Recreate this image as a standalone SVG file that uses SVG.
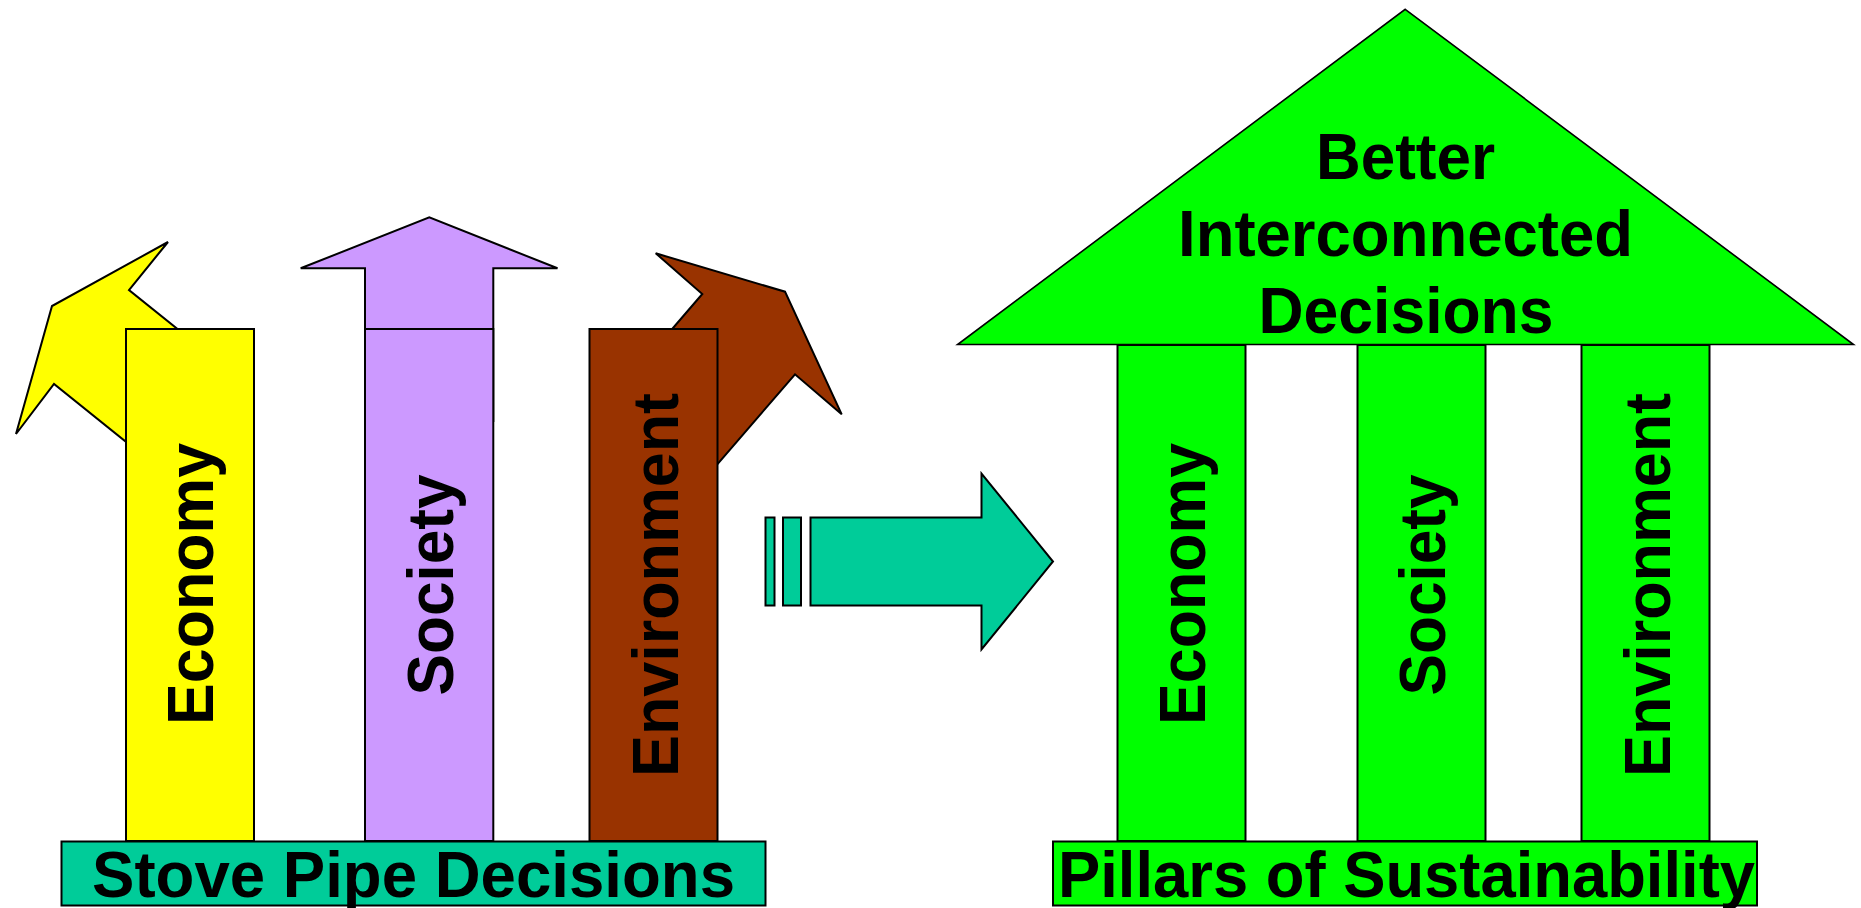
<svg xmlns="http://www.w3.org/2000/svg" width="1861" height="908" viewBox="0 0 1861 908">
<style>
.s{stroke:#000;stroke-width:2;stroke-linejoin:miter}
.t{font-family:"Liberation Sans",Arial,sans-serif;font-weight:bold;font-size:65px;fill:#000}
.yel{fill:#FFFF00}.pur{fill:#CC99FF}.brn{fill:#993300}.grn{fill:#00FF00}.teal{fill:#00CC99}
</style>
<rect width="1861" height="908" fill="#fff"/>
<g id="economy-stovepipe">
<polygon class="s yel" points="246,384 129,290 168,242 52,306 16,434 54,384 171,478"/>
<rect class="s yel" x="126" y="329" width="128" height="512"/>
<text class="t" transform="translate(213,725) rotate(-90)" textLength="282" lengthAdjust="spacingAndGlyphs">Economy</text>
</g>
<g id="society-stovepipe">
<polygon class="s pur" points="365,421 365,268.3 300.7,268.3 429.3,217.3 557.5,268.3 493.3,268.3 493.3,421"/>
<rect class="s pur" x="365" y="329" width="128.3" height="512"/>
<text class="t" transform="translate(453,695.5) rotate(-90)" textLength="221" lengthAdjust="spacingAndGlyphs">Society</text>
</g>
<g id="environment-stovepipe">
<polygon class="s brn" points="604.4,407.6 702.3,294 655.7,253.3 785,291.7 841.7,414.3 795,374.3 697,487.9"/>
<rect class="s brn" x="589.5" y="329" width="128" height="512"/>
<text class="t" transform="translate(678,777) rotate(-90)" textLength="384" lengthAdjust="spacingAndGlyphs">Environment</text>
</g>
<g id="stovepipe-base">
<rect class="s teal" x="61.5" y="841.5" width="704" height="64"/>
<text class="t" x="92" y="897" textLength="643" lengthAdjust="spacingAndGlyphs">Stove Pipe Decisions</text>
</g>
<g id="connectors">
<rect class="s teal" x="765.5" y="517.5" width="9" height="88"/>
<rect class="s teal" x="783" y="517.5" width="18" height="88"/>
<polygon class="s teal" points="810.5,517.5 981.5,517.5 981.5,473.5 1053,561.5 981.5,649.5 981.5,605.5 810.5,605.5"/>
</g>
<g id="pillar-economy">
<rect class="s grn" x="1117.5" y="345" width="128" height="496"/>
<text class="t" transform="translate(1205,725) rotate(-90)" textLength="282" lengthAdjust="spacingAndGlyphs">Economy</text>
</g>
<g id="pillar-society">
<rect class="s grn" x="1357.5" y="345" width="128" height="496"/>
<text class="t" transform="translate(1445,695.5) rotate(-90)" textLength="221" lengthAdjust="spacingAndGlyphs">Society</text>
</g>
<g id="pillar-environment">
<rect class="s grn" x="1581.5" y="345" width="128" height="496"/>
<text class="t" transform="translate(1670,777) rotate(-90)" textLength="384" lengthAdjust="spacingAndGlyphs">Environment</text>
</g>
<g id="roof">
<polygon class="grn" stroke="#000" stroke-width="1.6" points="1405.2,9.3 1853.5,344.5 957.6,344.5"/>
<text class="t" x="1405.5" y="179" text-anchor="middle" textLength="179" lengthAdjust="spacingAndGlyphs">Better</text>
<text class="t" x="1405.5" y="256" text-anchor="middle" textLength="455" lengthAdjust="spacingAndGlyphs">Interconnected</text>
<text class="t" x="1406" y="332.5" text-anchor="middle" textLength="295" lengthAdjust="spacingAndGlyphs">Decisions</text>
</g>
<g id="pillars-base">
<rect class="s grn" x="1053" y="841.5" width="704" height="64"/>
<text class="t" x="1058" y="897" textLength="697" lengthAdjust="spacingAndGlyphs">Pillars of Sustainability</text>
</g>
</svg>
